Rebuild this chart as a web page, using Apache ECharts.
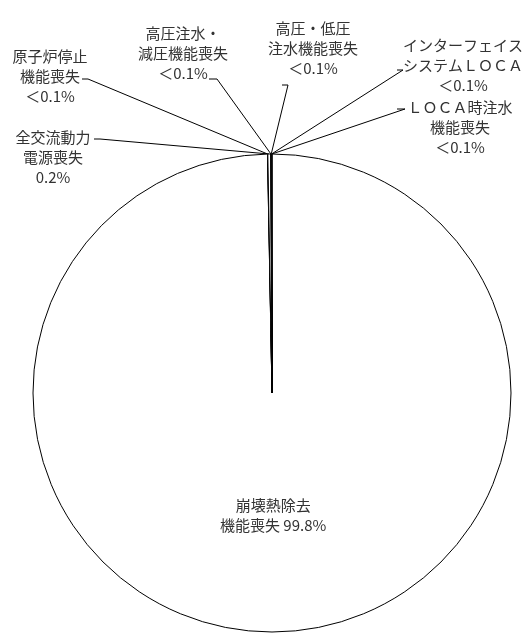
<!DOCTYPE html>
<html>
<head>
<meta charset="utf-8">
<script src="https://cdn.jsdelivr.net/npm/echarts@6/dist/echarts.min.js"></script>
<style>
html, body { margin: 0; padding: 0; background: #fff; }
#chart { width: 531px; height: 634px; }
</style>
</head>
<body>
<div id="chart"></div>
<script>
// 事故シーケンスグループ別の寄与割合
var names = [
  "崩壊熱除去機能喪失",
  "原子炉停止機能喪失",
  "全交流動力電源喪失",
  "高圧注水・減圧機能喪失",
  "高圧・低圧注水機能喪失",
  "インターフェイスシステムＬＯＣＡ",
  "ＬＯＣＡ時注水機能喪失"
];
var values = [99.8, 0.02, 0.2, 0.02, 0.02, 0.02, 0.02];
var labelTexts = [
  "崩壊熱除去\n機能喪失 99.8%",
  "原子炉停止\n機能喪失\n＜0.1%",
  "全交流動力\n電源喪失\n0.2%",
  "高圧注水・\n減圧機能喪失\n＜0.1%",
  "高圧・低圧\n注水機能喪失\n＜0.1%",
  "インターフェイス\nシステムＬＯＣＡ\n＜0.1%",
  "ＬＯＣＡ時注水\n機能喪失\n＜0.1%"
];

// ラベル位置（中心）と引出線の折れ点・終点
var labelPos = {
  1: { x: 50, y: 76, elbow: [88, 79], end: [82, 79] },
  2: { x: 53, y: 157, elbow: [100, 139], end: [94, 139] },
  3: { x: 183, y: 53, elbow: [217, 79], end: [209, 79] },
  4: { x: 313, y: 48, elbow: [288, 85], end: [282, 85] },
  5: { x: 463, y: 65, elbow: [403, 70], end: [397, 70] },
  6: { x: 460, y: 127, elbow: [405, 109], end: [397, 109] }
};

var chart = echarts.init(document.getElementById("chart"));

var seriesData = names.map(function (n, i) {
  var item = { name: n, value: values[i] };
  if (i === 0) {
    item.label = { position: "inside" };
    item.labelLine = { show: false };
  }
  return item;
});

var option = {
  animation: false,
  series: [
    {
      type: "pie",
      center: [272, 393],
      radius: 239,
      startAngle: 90,
      clockwise: true,
      avoidLabelOverlap: false,
      minAngle: 0,
      data: seriesData,
      itemStyle: {
        color: "#fff",
        borderColor: "#000",
        borderWidth: 1
      },
      emphasis: { disabled: true },
      label: {
        show: true,
        position: "outside",
        color: "#333",
        fontSize: 15,
        lineHeight: 20,
        fontFamily: "Noto Sans CJK JP",
        align: "center",
        formatter: function (p) {
          return labelTexts[p.dataIndex];
        }
      },
      labelLine: {
        show: true,
        lineStyle: { color: "#000", width: 1 }
      },
      labelLayout: function (p) {
        var pos = labelPos[p.dataIndex];
        if (!pos) return {};
        var start = p.labelLinePoints ? p.labelLinePoints[0] : [272, 154];
        return {
          x: pos.x,
          y: pos.y,
          align: "center",
          verticalAlign: "middle",
          labelLinePoints: [start, pos.elbow, pos.end]
        };
      }
    }
  ]
};

chart.setOption(option);
window.onresize = function () {
  chart.resize();
};
</script>
</body>
</html>
